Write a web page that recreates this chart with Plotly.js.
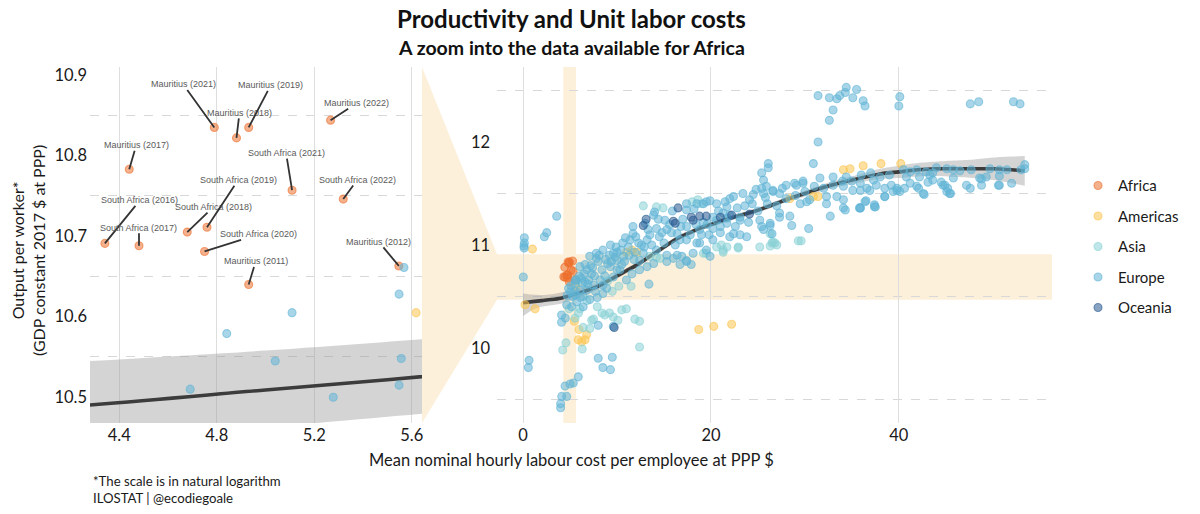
<!DOCTYPE html>
<html>
<head>
<meta charset="utf-8">
<script src="https://cdn.plot.ly/plotly-3.0.1.min.js"></script>
<style>html,body{margin:0;padding:0;background:#fff;}#chart{width:1200px;height:514px;}</style>
</head>
<body>
<div id="chart"></div>
<script>
// ---------- Data (log output per worker vs hourly labour cost) ----------
const regions = ['Africa', 'Americas', 'Asia', 'Europe', 'Oceania'];

const africaLabel = ['Mauritius (2011)', 'Mauritius (2012)', 'Mauritius (2017)', 'Mauritius (2018)',
  'Mauritius (2019)', 'Mauritius (2021)', 'Mauritius (2022)', 'South Africa (2016)', 'South Africa (2017)',
  'South Africa (2018)', 'South Africa (2019)', 'South Africa (2020)', 'South Africa (2021)', 'South Africa (2022)'];
const africaX = [4.931, 5.547, 4.441, 4.881, 4.931, 4.790, 5.267, 4.341, 4.481, 4.679, 4.760, 4.750, 5.109, 5.319];
const africaY = [10.640, 10.663, 10.783, 10.822, 10.835, 10.835, 10.844, 10.691, 10.688, 10.705, 10.711, 10.681, 10.757, 10.746];

const americasX = [1.0, 0.21, 1.28, 5.46, 5.96, 6.77, 5.88, 6.24, 6.6, 18.7, 20.3, 22.2, 11.0, 11.6, 12.1, 5.618,
  30.9, 31.4, 28.4, 34.1, 34.8, 36.2, 38.1, 40.2];
const americasY = [10.96, 10.42, 10.38, 10.26, 10.18, 10.13, 10.08, 10.06, 10.08, 10.18, 10.21, 10.23, 10.93, 10.95, 10.93, 10.605,
  11.47, 11.47, 11.45, 11.73, 11.74, 11.77, 11.79, 11.79];

const asiaX = [12.8, 14.2, 14.9, 7.3, 7.5, 8.4, 8.7, 9.2, 9.6, 10.1, 10.5, 11.0, 11.9, 12.4, 7.1, 6.4, 12.4, 4.57, 4.22,
  6.3, 5.9, 5.53, 6.06, 13.5, 14.2, 14.6, 19.2, 21.3, 22.9, 20.6, 21.1, 21.7, 19.5, 26.6, 27.0, 29.3, 29.6, 26.5, 26.8,
  26.3, 25.2, 26.3, 9.0, 10.2, 6.8, 4.9, 18.0, 18.6, 19.0, 21.3, 22.9, 9.5, 7.9, 11.5];
const asiaY = [11.38, 11.37, 11.36, 10.27, 10.28, 10.34, 10.32, 10.34, 10.30, 10.27, 10.37, 10.38, 10.28, 10.26, 10.19, 10.20, 10.01, 10.05, 9.98,
  9.99, 10.34, 10.29, 10.38, 10.89, 10.88, 10.87, 10.92, 10.93, 10.97, 10.98, 11.00, 10.98, 10.92, 11.03, 11.00, 11.04, 11.04, 11.02, 11.02,
  11.11, 10.98, 10.99, 10.65, 10.60, 10.46, 10.38, 11.42, 11.44, 11.40, 10.95, 10.98, 10.55, 10.40, 10.60];

const europeX = [4.841, 5.109, 5.548, 5.568, 5.040, 4.691, 5.278, 5.557, 5.548,
  0.14, 0.14, 0.10, 0.12, 0.03, 2.27, 2.52, 3.58, 0.64, 0.56,
  4.1, 4.5, 4.1, 5.88, 4.47, 5.0, 5.35, 4.12, 4.65, 4.0, 4.0, 4.65, 5.18, 5.71,
  8.0, 8.5, 9.3, 9.5, 8.0, 9.6, 13.4,
  5.7, 6.06, 6.6, 6.8, 7.3, 7.8, 8.0, 8.4, 8.2, 8.5, 7.5, 6.8, 6.06, 6.4, 7.1, 7.7, 8.5, 6.4, 8.5, 9.3, 9.6, 10.0,
  10.0, 9.3, 10.0, 10.5, 9.6, 10.3, 11.0, 11.6, 12.4, 13.2, 13.9, 15.3, 10.7, 12.4, 7.1, 7.8, 6.0, 6.3, 7.0, 9.0, 8.9,
  10.9, 11.4, 11.7, 11.7, 12.3, 13.0, 13.2, 13.9, 14.0, 14.2, 15.1, 15.3, 16.4, 16.7, 16.9, 17.4, 17.4, 18.5, 17.4, 17.9,
  16.0, 15.3, 14.2, 12.8, 16.4, 16.7, 17.4, 18.5, 17.4, 18.8, 20.2, 21.7, 22.0, 20.2, 18.8, 17.4, 18.1, 19.5, 19.9,
  19.5, 20.6, 22.0, 23.4, 24.5, 25.6, 26.6, 28.0, 28.9, 29.8, 31.6, 33.0, 34.4, 35.9, 36.9, 37.6, 20.2, 21.3, 22.0, 23.1,
  25.2, 26.3, 27.3, 28.4, 30.2, 32.3, 32.7, 34.1, 35.9, 37.4, 23.1, 23.8, 25.6, 26.5, 28.6, 30.4, 19.2, 19.9, 21.7, 22.4,
  24.1, 24.8, 25.4, 25.9, 26.6, 27.3, 29.1, 29.8, 20.6, 21.7, 23.1, 22.4, 21.0, 25.4, 26.3, 27.3, 29.5, 30.5,
  26.1, 26.1, 25.4, 25.6, 30.9, 31.4,
  31.4, 32.6, 33.4, 33.7, 34.3, 34.4, 35.5, 35.1, 36.2, 36.4, 33.0, 32.6, 40.1, 40.0, 47.6, 48.5, 52.2, 52.9,
  34.1, 35.1, 36.6, 37.3, 38.5, 39.2, 32.3, 33.4, 34.1, 35.9, 38.5, 39.8, 34.3, 35.8, 36.5, 37.5, 41.9, 42.7, 45.5,
  41.2, 41.9, 42.9, 43.6, 45.1, 45.8, 47.7, 49.7, 50.7, 53.4, 53.4, 53.0, 40.8, 42.2, 43.3, 43.6, 44.7, 45.2, 45.4, 45.8,
  47.2, 47.6, 48.6, 48.8, 49.3, 50.7, 52.0, 42.6, 40.6, 40.1, 39.8, 41.2, 42.1, 43.1, 44.5, 44.9, 45.1, 48.8, 50.6, 50.7,
  39.4, 38.5, 37.4, 36.4, 35.9,
  9.8, 10.4, 11.2, 11.9, 12.6, 13.5, 14.5, 15.0, 15.8, 16.8, 17.8, 18.4, 19.2, 19.8, 21.0, 22.6, 24.0, 25.0, 26.0, 27.0,
  28.0, 29.0, 30.0, 31.0, 32.0, 33.0, 34.0, 35.0, 36.0, 37.0, 38.0, 39.0, 40.5, 44.0, 46.5, 51.5,
  6.2, 6.5, 6.9, 7.2, 7.6, 8.1, 8.8, 9.2, 9.9, 10.6, 11.3, 11.8, 12.9, 13.7, 14.8, 15.6, 16.2, 17.0, 18.2, 19.0,
  19.6, 20.8, 21.5, 22.8, 23.6, 24.4, 25.8, 27.6, 6.6, 7.4, 9.4, 10.8, 12.0, 13.3, 14.4, 15.9, 6.1, 7.9, 8.7];
const europeY = [10.579, 10.605, 10.628, 10.661, 10.545, 10.510, 10.500, 10.548, 10.515,
  11.07, 11.02, 10.99, 10.97, 10.69, 11.08, 11.12, 11.28, 9.88, 9.81,
  10.32, 10.29, 10.25, 9.72, 9.63, 9.65, 9.66, 9.53, 9.53, 9.46, 9.42, 10.42, 10.40, 10.45,
  9.90, 9.81, 9.79, 9.91, 10.22, 10.21, 10.62,
  10.66, 10.79, 10.81, 10.76, 10.72, 10.87, 10.84, 10.76, 10.66, 10.61, 10.61, 10.56, 10.56, 10.50, 10.47, 10.55, 10.53, 10.40, 10.95, 11.00, 10.92, 10.93,
  10.85, 10.79, 10.76, 10.81, 10.69, 10.76, 10.66, 10.72, 10.76, 10.79, 10.82, 10.84, 10.89, 10.85, 10.89, 10.92, 10.70, 10.63, 10.66, 10.82, 10.58,
  11.07, 11.05, 11.18, 11.11, 11.02, 11.21, 11.05, 11.29, 11.32, 11.16, 11.24, 11.15, 11.11, 11.05, 10.89, 11.40, 11.34, 11.40, 10.85, 10.81,
  10.87, 10.90, 10.95, 10.92, 10.90, 10.81, 10.84, 11.02, 11.18, 11.15, 11.16, 11.21, 11.08, 11.05, 11.02, 11.05, 10.92, 10.95, 10.89,
  11.42, 11.40, 11.45, 11.50, 11.49, 11.50, 11.53, 11.58, 11.60, 11.60, 11.65, 11.66, 11.66, 11.60, 11.53, 11.58, 11.27, 11.31, 11.29, 11.24,
  11.24, 11.19, 11.31, 11.28, 11.42, 11.40, 11.28, 11.36, 11.36, 11.39, 11.10, 11.08, 11.15, 11.11, 11.19, 11.16, 11.40, 11.43, 11.37, 11.47,
  11.44, 11.54, 11.55, 11.57, 11.52, 11.50, 11.58, 11.62, 11.24, 11.26, 11.27, 11.11, 11.18, 11.18, 11.21, 11.27, 11.40, 11.44,
  11.79, 11.75, 11.70, 11.63, 11.79, 12.00,
  12.45, 12.43, 12.42, 12.45, 12.48, 12.53, 12.51, 12.43, 12.40, 12.35, 12.31, 12.21, 12.44, 12.35, 12.37, 12.39, 12.39, 12.37,
  11.57, 11.53, 11.55, 11.63, 11.55, 11.58, 11.47, 11.47, 11.44, 11.53, 11.47, 11.53, 11.34, 11.36, 11.43, 11.37, 11.57, 11.49, 11.50,
  11.71, 11.73, 11.71, 11.70, 11.74, 11.73, 11.73, 11.74, 11.73, 11.78, 11.74, 11.73, 11.66, 11.66, 11.68, 11.63, 11.58, 11.55, 11.50, 11.65,
  11.58, 11.55, 11.65, 11.58, 11.66, 11.58, 11.60, 11.50, 11.55, 11.52, 11.55, 11.60, 11.55, 11.61, 11.61, 11.58, 11.52, 11.64, 11.58, 11.67,
  11.52, 11.47, 11.37, 11.42, 11.36,
  10.88, 10.95, 10.98, 10.93, 11.00, 11.10, 11.08, 11.02, 11.12, 11.18, 11.10, 11.20, 11.22, 11.10, 11.12, 11.18, 11.22, 11.33, 11.40, 11.38,
  11.45, 11.48, 11.52, 11.57, 11.55, 11.58, 11.62, 11.62, 11.68, 11.70, 11.66, 11.68, 11.73, 11.75, 11.72, 11.73,
  10.68, 10.72, 10.62, 10.80, 10.70, 10.90, 10.86, 10.90, 10.98, 11.02, 10.90, 10.86, 10.98, 11.00, 11.12, 11.20, 11.00, 11.25, 11.35, 11.10,
  11.20, 11.33, 11.42, 11.36, 11.38, 11.40, 11.46, 11.55, 10.64, 10.78, 10.84, 10.84, 11.08, 11.15, 11.25, 11.33, 10.49, 10.49, 10.70];

const oceaniaX = [9.7, 12.8, 16.0, 16.2, 16.5, 17.9, 18.1, 18.8, 19.5, 21.0, 22.2, 24.1, 13.1];
const oceaniaY = [10.20, 11.19, 11.23, 11.21, 11.36, 11.27, 11.24, 11.28, 11.28, 11.27, 11.29, 11.30, 11.25];

// Smoothed trend (loess) with its confidence band
const smoothX  = [0, 1, 2, 3, 4, 5, 6, 7, 8, 9, 10, 11, 12, 13, 14, 15, 16, 17, 18, 19, 20, 22, 24, 26, 28, 30,
  32, 34, 36, 38, 40, 42, 44, 46, 48, 50, 52, 53.4];
const smoothY  = [10.44, 10.45, 10.46, 10.47, 10.484, 10.509, 10.535, 10.565, 10.60, 10.65, 10.70, 10.75, 10.80, 10.86,
  10.92, 10.98, 11.04, 11.09, 11.13, 11.17, 11.20, 11.26, 11.31, 11.37, 11.44, 11.50, 11.56, 11.61, 11.65, 11.69, 11.71,
  11.73, 11.74, 11.74, 11.74, 11.74, 11.73, 11.72];
const smoothLo = [10.31, 10.37, 10.40, 10.415, 10.43, 10.462, 10.49, 10.53, 10.57, 10.625, 10.675, 10.725, 10.775, 10.835,
  10.895, 10.955, 11.015, 11.065, 11.105, 11.145, 11.175, 11.235, 11.285, 11.345, 11.415, 11.47, 11.53, 11.575, 11.61,
  11.64, 11.65, 11.665, 11.67, 11.66, 11.65, 11.63, 11.60, 11.575];
const smoothHi = [10.53, 10.52, 10.515, 10.522, 10.540, 10.558, 10.580, 10.60, 10.63, 10.675, 10.725, 10.775, 10.825, 10.885,
  10.945, 11.005, 11.065, 11.115, 11.155, 11.195, 11.225, 11.285, 11.335, 11.395, 11.465, 11.53, 11.59, 11.645, 11.69,
  11.74, 11.77, 11.795, 11.81, 11.82, 11.83, 11.85, 11.86, 11.865];

// ---------- Styling ----------
const regionColor = {
  Africa:   [236, 112, 45],
  Americas: [252, 197, 80],
  Asia:     [138, 210, 213],
  Europe:   [97, 180, 213],
  Oceania:  [40, 90, 145]
};
const rgba = (c, a) => `rgba(${c[0]},${c[1]},${c[2]},${a})`;
const regionData = {
  Africa:   [africaX, africaY],
  Americas: [americasX, americasY],
  Asia:     [asiaX, asiaY],
  Europe:   [europeX, europeY],
  Oceania:  [oceaniaX, oceaniaY]
};

const FONT = 'Lato, "Open Sans", sans-serif';
const leftXRange = [4.28, 5.642];
const leftYRange = [10.468, 10.91];
const rightXRange = [-2.77, 56.3];
const rightYRange = [9.272, 12.728];
const leftDomain = [0, 0.3451];
const rightDomain = [0.4231, 1];

const traces = [];
// confidence band + trend, on both panels
[['x', 'y'], ['x2', 'y2']].forEach(([xa, ya]) => {
  traces.push({x: smoothX, y: smoothLo, xaxis: xa, yaxis: ya, mode: 'lines',
    line: {width: 0, color: 'rgba(0,0,0,0)', shape: 'spline', smoothing: 0.8}, showlegend: false, hoverinfo: 'skip'});
  traces.push({x: smoothX, y: smoothHi, xaxis: xa, yaxis: ya, mode: 'lines',
    line: {width: 0, color: 'rgba(0,0,0,0)', shape: 'spline', smoothing: 0.8},
    fill: 'tonexty', fillcolor: 'rgba(153,153,153,0.42)', showlegend: false, hoverinfo: 'skip'});
  traces.push({x: smoothX, y: smoothY, xaxis: xa, yaxis: ya, mode: 'lines',
    line: {width: 3.6, color: '#3c3c3c', shape: 'spline', smoothing: 0.8}, showlegend: false, hoverinfo: 'skip'});
});
// points: the left panel is a zoom on the same data
[['x', 'y', false], ['x2', 'y2', true]].forEach(([xa, ya, leg]) => {
  regions.forEach(r => {
    const c = regionColor[r];
    traces.push({
      x: regionData[r][0], y: regionData[r][1], xaxis: xa, yaxis: ya,
      type: 'scatter', mode: 'markers', name: r, legendgroup: r, showlegend: leg,
      marker: {size: 8, color: rgba(c, 0.55), line: {width: 1.1, color: rgba(c, 0.6)}}
    });
  });
});

// label offsets (pixels from the point to the label centre)
const labelOffsets = [[7, -23], [-20, -24], [7, -24], [3, -25], [22, -42], [-31, -43], [26, -17],
  [35, -43], [0, -18], [26, -25], [31, -47], [54, -17], [-6, -37], [14, -19]];

const annotations = africaLabel.map((t, i) => ({
  x: africaX[i], y: africaY[i], xref: 'x', yref: 'y', text: t,
  showarrow: true, arrowhead: 0, arrowwidth: 1.8, arrowcolor: '#333333', standoff: 0,
  ax: labelOffsets[i][0], ay: labelOffsets[i][1], borderpad: 0,
  font: {family: '"Liberation Sans", Arial, sans-serif', size: 9, color: '#5a5a5a'}
}));

const H = 356, W = 962; // plot area in px (for placing texts)
annotations.push(
  {xref: 'paper', yref: 'paper', x: 0.5, y: 1 + 49 / H, text: '<b>Productivity and Unit labor costs</b>',
   showarrow: false, xanchor: 'center', yanchor: 'middle', font: {family: FONT, size: 24, color: '#111'}},
  {xref: 'paper', yref: 'paper', x: 0.5, y: 1 + 20 / H, text: '<b>A zoom into the data available for Africa</b>',
   showarrow: false, xanchor: 'center', yanchor: 'middle', font: {family: FONT, size: 19.5, color: '#111'}},
  {xref: 'paper', yref: 'paper', x: 0.5, y: -37 / H, text: 'Mean nominal hourly labour cost per employee at PPP $',
   showarrow: false, xanchor: 'center', yanchor: 'middle', font: {family: FONT, size: 16.5, color: '#1a1a1a'}},
  {xref: 'paper', yref: 'paper', x: -62 / W, y: 172 / H, text: 'Output per worker*<br>(GDP constant 2017 $ at PPP)',
   showarrow: false, textangle: -90, xanchor: 'center', yanchor: 'middle', font: {family: FONT, size: 16, color: '#1a1a1a'}},
  {xref: 'paper', yref: 'paper', x: 1 / W, y: -66 / H, text: '*The scale is in natural logarithm<br>ILOSTAT | @ecodiegoale',
   showarrow: false, xanchor: 'left', yanchor: 'middle', align: 'left', font: {family: FONT, size: 13.2, color: '#1a1a1a'}}
);

// highlight: window of the zoom inside the full panel, and the connector between panels
const yToPaper = v => (v - rightYRange[0]) / (rightYRange[1] - rightYRange[0]);
const BAND = '#fdf0da';
const shapes = [
  {type: 'rect', xref: 'x2', yref: 'y2 domain', x0: leftXRange[0], x1: leftXRange[1], y0: 0, y1: 1,
   fillcolor: BAND, line: {width: 0}, layer: 'below'},
  {type: 'rect', xref: 'x2 domain', yref: 'y2', x0: 0, x1: 1, y0: leftYRange[0], y1: leftYRange[1],
   fillcolor: BAND, line: {width: 0}, layer: 'below'},
  {type: 'path', xref: 'paper', yref: 'paper',
   path: `M ${leftDomain[1]},1 L ${rightDomain[0]},${yToPaper(leftYRange[1])} L ${rightDomain[0]},${yToPaper(leftYRange[0])} L ${leftDomain[1]},0 Z`,
   fillcolor: BAND, line: {width: 0}, layer: 'below'}
];

const axisCommon = {zeroline: false, showline: false, ticks: '', tickfont: {family: FONT, size: 16.5, color: '#1a1a1a'}};
const gridV = {showgrid: true, gridcolor: '#dedede', gridwidth: 1};
const layout = {
  width: 1200, height: 514,
  margin: {l: 90, r: 148, t: 67, b: 91},
  paper_bgcolor: '#ffffff', plot_bgcolor: 'rgba(0,0,0,0)',
  font: {family: FONT, color: '#1a1a1a'},
  xaxis: Object.assign({}, axisCommon, gridV, {domain: leftDomain, range: leftXRange, tick0: 4.4, dtick: 0.4, anchor: 'y'}),
  yaxis: Object.assign({}, axisCommon, {domain: [0, 1], range: leftYRange, tick0: 10.5, dtick: 0.1, anchor: 'x',
    showgrid: false, ticklabelstandoff: 2,
    minor: {tick0: 10.55, dtick: 0.1, showgrid: true, gridcolor: '#d8d8d8', griddash: 'dash', gridwidth: 1}}),
  xaxis2: Object.assign({}, axisCommon, gridV, {domain: rightDomain, range: rightXRange, tick0: 0, dtick: 20, anchor: 'y2'}),
  yaxis2: Object.assign({}, axisCommon, {domain: [0, 1], range: rightYRange, tick0: 10, dtick: 1, anchor: 'x2',
    showgrid: false, ticklabelstandoff: 6,
    minor: {tick0: 9.5, dtick: 1, showgrid: true, gridcolor: '#d8d8d8', griddash: 'dash', gridwidth: 1}}),
  showlegend: true,
  legend: {x: 1 + 26 / W, xanchor: 'left', y: 0.495, yanchor: 'middle', bgcolor: 'rgba(0,0,0,0)',
    font: {family: FONT, size: 15, color: '#1a1a1a'}, tracegroupgap: 8, traceorder: 'grouped'},
  shapes: shapes,
  annotations: annotations,
  hovermode: false
};

Plotly.newPlot('chart', traces, layout, {displayModeBar: false, staticPlot: true});
</script>
</body>
</html>
